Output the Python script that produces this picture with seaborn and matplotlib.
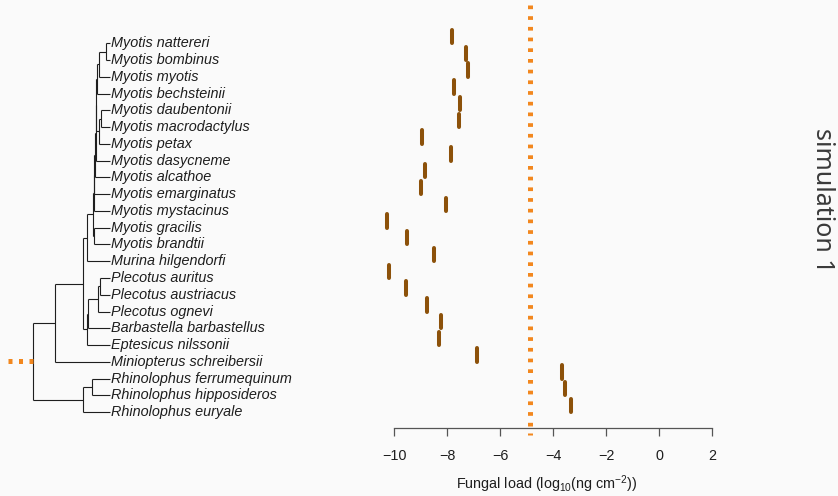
import numpy as np
import pandas as pd
import matplotlib.pyplot as plt
import seaborn as sns

# ------------------- data -------------------
species = [
    "Myotis nattereri", "Myotis bombinus", "Myotis myotis", "Myotis bechsteinii",
    "Myotis daubentonii", "Myotis macrodactylus", "Myotis petax", "Myotis dasycneme",
    "Myotis alcathoe", "Myotis emarginatus", "Myotis mystacinus", "Myotis gracilis",
    "Myotis brandtii", "Murina hilgendorfi", "Plecotus auritus", "Plecotus austriacus",
    "Plecotus ognevi", "Barbastella barbastellus", "Eptesicus nilssonii",
    "Miniopterus schreibersii", "Rhinolophus ferrumequinum", "Rhinolophus hipposideros",
    "Rhinolophus euryale",
]
fungal_load = [
    -7.82, -7.30, -7.22, -7.75, -7.50, -7.55, -8.94, -7.84, -8.83, -8.98, -8.05,
    -10.25, -9.52, -8.49, -10.19, -9.55, -8.74, -8.24, -8.30, -6.88, -3.65, -3.56, -3.32,
]
root_state = -4.87
x_ticks = [-10, -8, -6, -4, -2, 0, 2]

# phylogeny: internal node -> children, node depth (root = 0, tips = 1)
tree_children = {
    "root": ["R", "T"],
    "R": ["N", "Miniopterus schreibersii"],
    "N": ["M", "Z"],
    "M": ["K", "Murina hilgendorfi"],
    "K": ["J", "L"],
    "L": ["Myotis gracilis", "Myotis brandtii"],
    "J": ["I", "Myotis mystacinus"],
    "I": ["H", "Myotis emarginatus"],
    "H": ["G", "Myotis alcathoe"],
    "G": ["F", "Myotis dasycneme"],
    "F": ["C", "E"],
    "C": ["B", "Myotis bechsteinii"],
    "B": ["A", "Myotis myotis"],
    "A": ["Myotis nattereri", "Myotis bombinus"],
    "E": ["D", "Myotis petax"],
    "D": ["Myotis daubentonii", "Myotis macrodactylus"],
    "Z": ["X", "Eptesicus nilssonii"],
    "X": ["Y", "Barbastella barbastellus"],
    "Y": ["Q", "Plecotus ognevi"],
    "Q": ["Plecotus auritus", "Plecotus austriacus"],
    "T": ["S", "Rhinolophus euryale"],
    "S": ["Rhinolophus ferrumequinum", "Rhinolophus hipposideros"],
}
node_depth = {
    "root": 0.0, "R": 0.288, "N": 0.647, "M": 0.699, "K": 0.776, "L": 0.797,
    "J": 0.787, "I": 0.797, "H": 0.806, "G": 0.819, "F": 0.825, "C": 0.832,
    "B": 0.864, "A": 0.948, "E": 0.864, "D": 0.890, "Z": 0.706, "X": 0.719,
    "Y": 0.841, "Q": 0.871, "T": 0.655, "S": 0.763,
}
root_edge = 0.32

# ------------------- style -------------------
sns.set_theme(style="white")
plt.rcParams["font.family"] = ["Liberation Sans", "DejaVu Sans"]
plt.rcParams["mathtext.default"] = "regular"

bg = "#fafafa"
brown = "#8c510a"
orange = "#f2871e"
ink = "#1e1e1e"

fig = plt.figure(figsize=(8.38, 4.96), dpi=100, facecolor=bg)
W, H = 838, 496
ax_tree = fig.add_axes([0, 63 / H, 360 / W, 428 / H])
ax = fig.add_axes([367.5 / W, 63 / H, 359.1 / W, 428 / H])
ylim = (23.24, -2.28)

# ------------------- tree -------------------
tip_y = {name: i for i, name in enumerate(species)}
node_y = dict(tip_y)


def place(node):
    if node in node_y:
        return node_y[node]
    ys = [place(c) for c in tree_children[node]]
    node_y[node] = (min(ys) + max(ys)) / 2
    return node_y[node]


place("root")
depth = dict(node_depth)
for name in species:
    depth[name] = 1.0

for node, kids in tree_children.items():
    ys = [node_y[c] for c in kids]
    ax_tree.plot([depth[node]] * 2, [min(ys), max(ys)], color=ink, lw=0.8,
                 solid_capstyle="butt")
    for c in kids:
        ax_tree.plot([depth[node], depth[c]], [node_y[c]] * 2, color=ink, lw=0.8,
                     solid_capstyle="butt")

ax_tree.plot([-root_edge, 0], [node_y["root"]] * 2, color=orange, lw=3.6,
             linestyle=(0, (0.8, 1.3)), dash_capstyle="butt")

for name in species:
    ax_tree.text(1.012, tip_y[name], name, style="italic", fontsize=10.4,
                 color=ink, va="center", ha="left")

ax_tree.set_xlim(-32.7 / 77.3, -32.7 / 77.3 + 360 / 77.3)
ax_tree.set_ylim(*ylim)
ax_tree.axis("off")

# ------------------- fungal load -------------------
bar_len = 0.8
seg = pd.DataFrame({
    "species": np.repeat(species, 2),
    "load": np.repeat(fungal_load, 2),
    "y": np.ravel([[i, i - bar_len] for i in range(len(species))]),
})
sns.lineplot(data=seg, x="load", y="y", units="species", estimator=None,
             sort=False, color=brown, linewidth=2.9, solid_capstyle="round",
             legend=False, ax=ax)

# dotted line drawn from the top down so the dash pattern starts at the top
ax.plot([root_state, root_state], [1, -2 / 428], transform=ax.get_xaxis_transform(),
        color=orange, lw=3.6, linestyle=(0, (0.74, 1.4)), dash_capstyle="butt",
        clip_on=False)

ax.set_facecolor("none")
ax.set_xlim(-11, 2.55)
ax.set_ylim(*ylim)
ax.set_yticks([])
ax.set_ylabel("")
for s in ["left", "top", "right"]:
    ax.spines[s].set_visible(False)
ax.spines["bottom"].set_bounds(x_ticks[0], x_ticks[-1])
ax.spines["bottom"].set_position(("axes", 5 / 428))
ax.spines["bottom"].set_color("#555555")
ax.spines["bottom"].set_linewidth(0.9)
ax.set_xticks(x_ticks)
ax.tick_params(axis="x", direction="out", length=5.8, width=0.9, color="#555555",
               labelsize=10.4, labelcolor=ink, pad=9, bottom=True)
ax.set_xlabel("Fungal load (log$_{10}$(ng cm$^{-2}$))", fontsize=10.4, color=ink,
              labelpad=8)

fig.text(822 / W, 1 - 200 / H, "simulation 1", rotation=-90, fontsize=18,
         family="Noto Sans", color="#3a3a3a", ha="center", va="center")

fig.savefig("out.png", dpi=100, facecolor=bg)
